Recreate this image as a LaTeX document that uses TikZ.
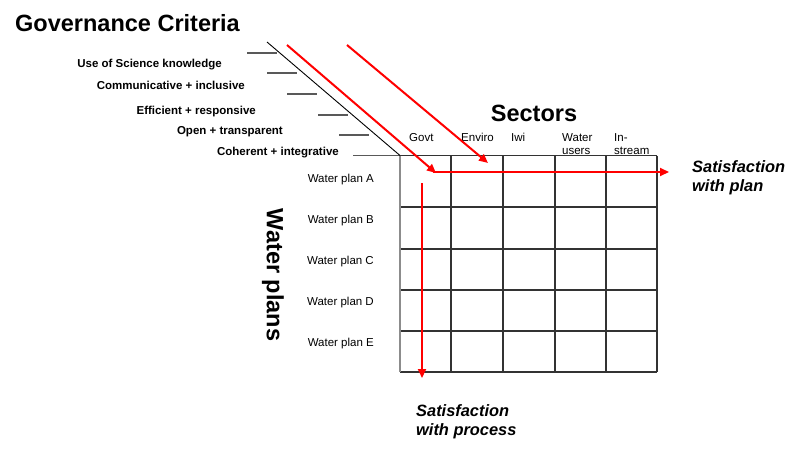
\documentclass[tikz,border=0pt]{standalone}
\usepackage{fontspec}
\setmainfont{Liberation Sans}
\usetikzlibrary{arrows.meta}
\begin{document}
\begin{tikzpicture}[x=1pt,y=-1pt,
  big/.style={font=\bfseries\fontsize{23.5}{26}\selectfont,inner sep=0pt},
  crit/.style={font=\bfseries\fontsize{11.5}{13}\selectfont,inner sep=0pt,anchor=east},
  rowlab/.style={font=\fontsize{11.5}{13}\selectfont,inner sep=0pt,anchor=east},
  collab/.style={font=\fontsize{11.5}{13}\selectfont,inner sep=0pt,anchor=north west,align=left},
  sat/.style={font=\bfseries\itshape\fontsize{16.4}{19}\selectfont,inner sep=0pt,anchor=north west,align=left},
  gridline/.style={draw=black!80,line width=1.3pt},
  tick/.style={draw=black!65,line width=1.3pt},
  redarrow/.style={draw=red,line width=2pt,-{Triangle[length=9pt,width=8pt]}}]
\useasboundingbox (0,0) rectangle (800,450);

% titles
\node[big,anchor=west] (title) at (15,23) {Governance Criteria};
\node[big] (sectors) at (534,113) {Sectors};
\node[big,rotate=-90] (plans) at (273,275) {Water plans};

% criteria labels
\node[crit] (c1) at (222,65) {Use of Science knowledge};
\node[crit] (c2) at (245,85) {Communicative + inclusive};
\node[crit] (c3) at (256,112) {Efficient + responsive};
\node[crit] (c4) at (283,132) {Open + transparent};
\node[crit] (c5) at (339,153) {Coherent + integrative};

% ticks
\draw[tick] (247,53) -- (277,53);
\draw[tick] (267,73) -- (297,73);
\draw[tick] (287,94) -- (317,94);
\draw[tick] (318,115) -- (348,115);
\draw[tick] (339,135) -- (369,135);
\draw[tick] (353,155.5) -- (400,155.5);
\coordinate (dtop) at (267,42);
\coordinate (corner) at (400,155.5);
\draw[black,line width=0.9pt] (dtop) -- (corner);

% grid
\draw[gridline] (400,155.5) -- (657,155.5);
\foreach \y in {207,249,290,331,372}
  \draw[gridline] (400,\y) -- (657,\y);
\draw[draw=black!45,line width=1.3pt] (400,155.5) -- (400,372);
\foreach \x in {451,503,555,606,657}
  \draw[gridline] (\x,155.5) -- (\x,372);

% column labels
\node[collab] (govt) at (409,133) {Govt};
\node[collab] (enviro) at (461,133) {Enviro};
\node[collab] (iwi) at (511,133) {Iwi};
\node[collab] (users) at (562,133) {Water\\users};
\node[collab] (instream) at (614,133) {In-\\stream};

% row labels
\node[rowlab] (ra) at (374,180) {Water plan A};
\node[rowlab] (rb) at (374,221) {Water plan B};
\node[rowlab] (rc) at (374,262) {Water plan C};
\node[rowlab] (rd) at (374,303) {Water plan D};
\node[rowlab] (re) at (374,344) {Water plan E};

% satisfaction labels
\node[sat] (splan) at (692,160.5) {Satisfaction\\with plan};
\node[sat] (sproc) at (416,404.5) {Satisfaction\\with process};

% red arrows
\coordinate (r1s) at (287,45);
\coordinate (r1e) at (436,173);
\coordinate (r1f) at (669,172);
\coordinate (r2s) at (347,45);
\coordinate (r2e) at (488,163);
\coordinate (r3s) at (422,183);
\coordinate (r3e) at (422,378);
\draw[redarrow] (r1s) -- (r1e);
\draw[redarrow] (433,172) -- (r1f);
\draw[redarrow] (r2s) -- (r2e);
\draw[redarrow] (r3s) -- (r3e);
\end{tikzpicture}
\end{document}
